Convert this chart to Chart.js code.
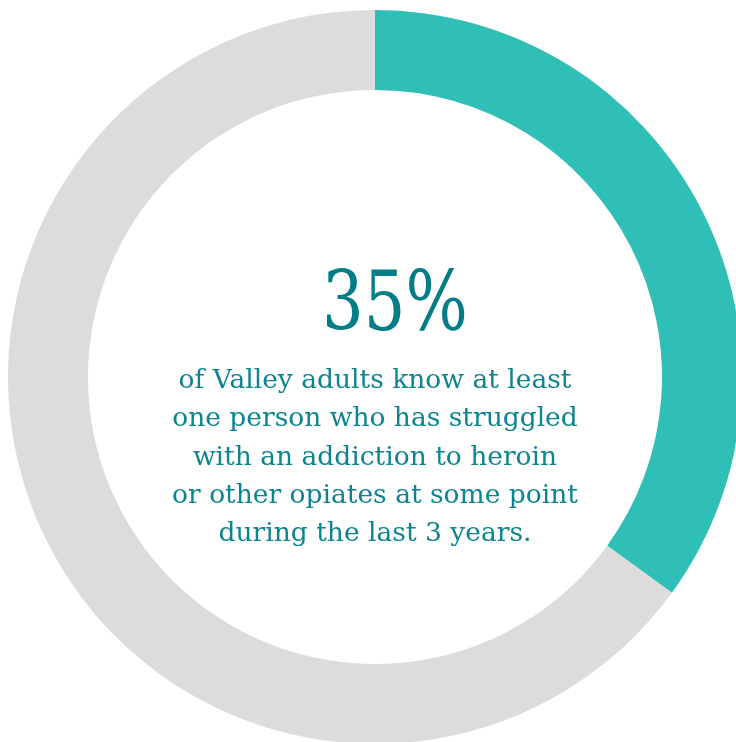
<!DOCTYPE html>
<html>
<head>
<meta charset="utf-8">
<script src="https://cdn.jsdelivr.net/npm/chart.js@4.4.0/dist/chart.umd.min.js"></script>
<style>
  html, body { margin:0; padding:0; background:#fff; overflow:hidden; width:736px; height:742px; }
  #wrap { position:absolute; left:8px; top:10px; width:734px; height:734px; }
</style>
</head>
<body>
<div id="wrap"><canvas id="chart" width="734" height="734"></canvas></div>
<script>
const labels = ["Know someone", "Do not"];
const values = [35, 65];
const colors = ["#30bfb6", "#dcdcdd"];
const bigText = "35%";
const lines = [
  "of Valley adults know at least",
  "one person who has struggled",
  "with an addiction to heroin",
  "or other opiates at some point",
  "during the last 3 years."
];

// texte au centre
const centerText = {
  id: "centerText",
  afterDraw(chart){
    const { ctx } = chart;
    const meta = chart.getDatasetMeta(0).data[0];
    const cx = meta.x, cy = meta.y;
    ctx.save();
    ctx.textAlign = "center";
    ctx.textBaseline = "alphabetic";
    ctx.fillStyle = "#017d87";
    ctx.font = "82px 'DejaVu Serif'";
    // le "35%" est plus étroit dans l'original
    ctx.save();
    ctx.translate(cx + 20, cy - 47);
    ctx.scale(0.8, 1);
    ctx.fillText(bigText, 0, 0);
    ctx.restore();
    ctx.fillStyle = "#0d8590";
    ctx.font = "26.5px 'DejaVu Serif'";
    lines.forEach(function(l, i){
      ctx.fillText(l, cx, cy + 11 + i*38.3);
    });
    ctx.restore();
  }
};

new Chart(document.getElementById("chart"), {
  type: "doughnut",
  data: { labels: labels, datasets: [{ data: values, backgroundColor: colors, borderWidth: 0 }] },
  options: {
    responsive: false,
    animation: false,
    cutout: "78.2%",
    layout: { padding: 0 },
    plugins: { legend: { display: false }, tooltip: { enabled: false } }
  },
  plugins: [centerText]
});
</script>
</body>
</html>
